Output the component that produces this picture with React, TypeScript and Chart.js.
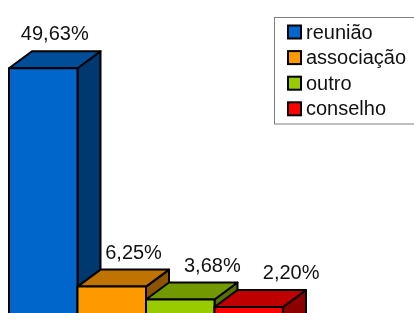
import React, { useEffect, useRef } from "react";
import { Chart, registerables } from "chart.js";

Chart.register(...registerables);

const categories = ["reunião", "associação", "outro", "conselho"];
const values = [49.63, 6.25, 3.68, 2.2];
const colors = ["#0066cc", "#ff9900", "#99cc00", "#ff0000"];

const FONT = "20px 'Liberation Sans', Arial, sans-serif";
const DX = 23;
const DY = 17;

function shade(hex: string, f: number) {
  const n = parseInt(hex.slice(1), 16);
  const r = Math.round(((n >> 16) & 255) * f);
  const g = Math.round(((n >> 8) & 255) * f);
  const b = Math.round((n & 255) * f);
  return `rgb(${r},${g},${b})`;
}

const bars3d = {
  id: "bars3d",
  afterDatasetsDraw(chart: any) {
    const ctx = chart.ctx;
    const meta = chart.getDatasetMeta(0);
    ctx.save();
    ctx.lineWidth = 2;
    ctx.lineJoin = "round";
    ctx.strokeStyle = "#000";
    meta.data.forEach((bar: any, i: number) => {
      const { x, y, width, base } = bar.getProps(["x", "y", "width", "base"], true);
      const l = x - width / 2;
      const r = x + width / 2;
      const c = colors[i];
      // side
      ctx.beginPath();
      ctx.moveTo(r, y);
      ctx.lineTo(r + DX, y - DY);
      ctx.lineTo(r + DX, base - DY + 40);
      ctx.lineTo(r, base + 40);
      ctx.closePath();
      ctx.fillStyle = shade(c, 0.55);
      ctx.fill();
      ctx.stroke();
      // top
      ctx.beginPath();
      ctx.moveTo(l, y);
      ctx.lineTo(l + DX, y - DY);
      ctx.lineTo(r + DX, y - DY);
      ctx.lineTo(r, y);
      ctx.closePath();
      ctx.fillStyle = shade(c, 0.75);
      ctx.fill();
      ctx.stroke();
      // front
      ctx.beginPath();
      ctx.rect(l, y, width, base + 40 - y);
      ctx.fillStyle = c;
      ctx.fill();
      ctx.stroke();
    });
    // value labels
    ctx.fillStyle = "#111";
    ctx.font = FONT;
    ctx.textAlign = "center";
    ctx.textBaseline = "alphabetic";
    meta.data.forEach((bar: any, i: number) => {
      const { x, y } = bar.getProps(["x", "y"], true);
      const txt = values[i].toFixed(2).replace(".", ",") + "%";
      ctx.fillText(txt, x + DX / 2 + i * 10.3, y - DY - 11);
    });
    ctx.restore();
  },
  afterDraw(chart: any) {
    const ctx = chart.ctx;
    ctx.save();
    // legend frame
    const lx = 274.5;
    const ly = 17.5;
    ctx.strokeStyle = "#7f7f7f";
    ctx.lineWidth = 1;
    ctx.strokeRect(lx, ly, 160, 106.5);
    ctx.font = FONT;
    ctx.textAlign = "left";
    ctx.textBaseline = "middle";
    categories.forEach((name, i) => {
      const cy = 32 + i * 25.6;
      ctx.fillStyle = colors[i];
      ctx.fillRect(288, cy - 6.5, 13, 13);
      ctx.strokeStyle = "#000";
      ctx.lineWidth = 2;
      ctx.strokeRect(288, cy - 6.5, 13, 13);
      ctx.fillStyle = "#111";
      ctx.fillText(name, 306, cy + 1);
    });
    ctx.restore();
  },
};

export default function App() {
  const ref = useRef<HTMLCanvasElement | null>(null);
  useEffect(() => {
    if (!ref.current) return;
    const chart = new Chart(ref.current, {
      type: "bar",
      data: {
        labels: categories,
        datasets: [
          {
            data: values,
            backgroundColor: "rgba(0,0,0,0)",
            borderWidth: 0,
            categoryPercentage: 1,
            barPercentage: 1,
          },
        ],
      },
      options: {
        responsive: false,
        animation: false,
        devicePixelRatio: 1,
        layout: { padding: { left: 9, right: 131, top: 16, bottom: 0 } },
        scales: {
          x: { display: false },
          y: { display: false, min: 1, max: 60 },
        },
        plugins: { legend: { display: false }, tooltip: { enabled: false } },
      },
      plugins: [bars3d],
    });
    return () => chart.destroy();
  }, []);
  return (
    <div style={{ position: "fixed", left: 0, top: 0, width: 414, height: 313, background: "#fff" }}>
      <canvas ref={ref} width={414} height={313} style={{ display: "block" }} />
    </div>
  );
}
